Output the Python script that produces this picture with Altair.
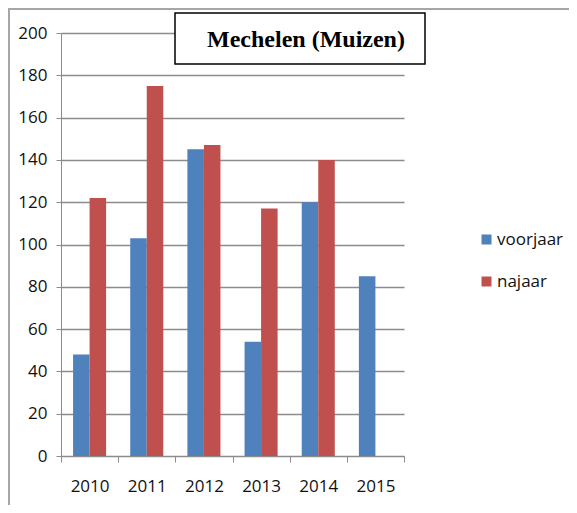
import altair as alt
import pandas as pd

years = ["2010", "2011", "2012", "2013", "2014", "2015"]
voorjaar = [48, 103, 145, 54, 120, 85]
najaar = [122, 175, 147, 117, 140, None]
seasons = ["voorjaar", "najaar"]
colors = ["#4F81BD", "#C0504D"]
title_text = "Mechelen (Muizen)"

rows = []
for y, v, n in zip(years, voorjaar, najaar):
    rows.append({"jaar": y, "seizoen": "voorjaar", "waarde": v})
    if n is not None:
        rows.append({"jaar": y, "seizoen": "najaar", "waarde": n})
df = pd.DataFrame(rows)

W, H = 343, 423

bars = alt.Chart(df).mark_bar().encode(
    x=alt.X("jaar:N", sort=years, title=None,
            scale=alt.Scale(paddingInner=0, paddingOuter=0),
            axis=alt.Axis(labelAngle=0, tickBand="extent", grid=False,
                          domainColor="#8C8C8C", tickColor="#8C8C8C",
                          tickSize=6, labelPadding=16, labelFontSize=17,
                          labelFont="Open Sans", labelColor="#111111")),
    xOffset=alt.XOffset("seizoen:N", sort=seasons,
                        scale=alt.Scale(domain=seasons, paddingOuter=0.73, paddingInner=0)),
    y=alt.Y("waarde:Q", title=None,
            scale=alt.Scale(domain=[0, 200], nice=False),
            axis=alt.Axis(values=list(range(0, 201, 20)), grid=True,
                          gridColor="#8C8C8C", gridWidth=1.3,
                          domainColor="#8C8C8C", tickColor="#8C8C8C",
                          tickSize=5, labelPadding=9, labelFontSize=17,
                          labelFont="Open Sans", labelColor="#111111")),
    color=alt.Color("seizoen:N", sort=seasons,
                    scale=alt.Scale(domain=seasons, range=colors),
                    legend=alt.Legend(title=None, orient="none",
                                      legendX=417, legendY=198,
                                      symbolType="square", symbolSize=100,
                                      symbolStrokeWidth=0,
                                      labelFontSize=17, labelFont="Open Sans",
                                      labelColor="#111111", labelOffset=2,
                                      rowPadding=24)),
)

box = alt.Chart(pd.DataFrame({"t": [title_text]})).mark_rect(
    fill="white", stroke="black", strokeWidth=1.5
).encode(x=alt.value(114), x2=alt.value(364), y=alt.value(-20), y2=alt.value(31))

title = alt.Chart(pd.DataFrame({"t": [title_text]})).mark_text(
    font="Liberation Serif", fontWeight="bold", fontSize=24,
    align="center", baseline="middle", color="black"
).encode(text="t:N", x=alt.value(245), y=alt.value(7))

border_top = alt.Chart(pd.DataFrame({"a": [1]})).mark_rule(
    color="#A6A6A6", strokeWidth=2
).encode(x=alt.value(-53), x2=alt.value(W + 170), y=alt.value(-24))

border_left = alt.Chart(pd.DataFrame({"a": [1]})).mark_rule(
    color="#A6A6A6", strokeWidth=2
).encode(x=alt.value(-52), y=alt.value(-24), y2=alt.value(H + 60))

chart = alt.layer(bars, border_top, border_left, box, title).properties(
    width=W, height=H,
    autosize=alt.AutoSizeParams(type="none"),
    padding={"left": 53, "top": 25, "right": 165, "bottom": 49},
).configure_view(stroke=None)

chart.save("out.html", embed_options={"renderer": "svg", "actions": False})
